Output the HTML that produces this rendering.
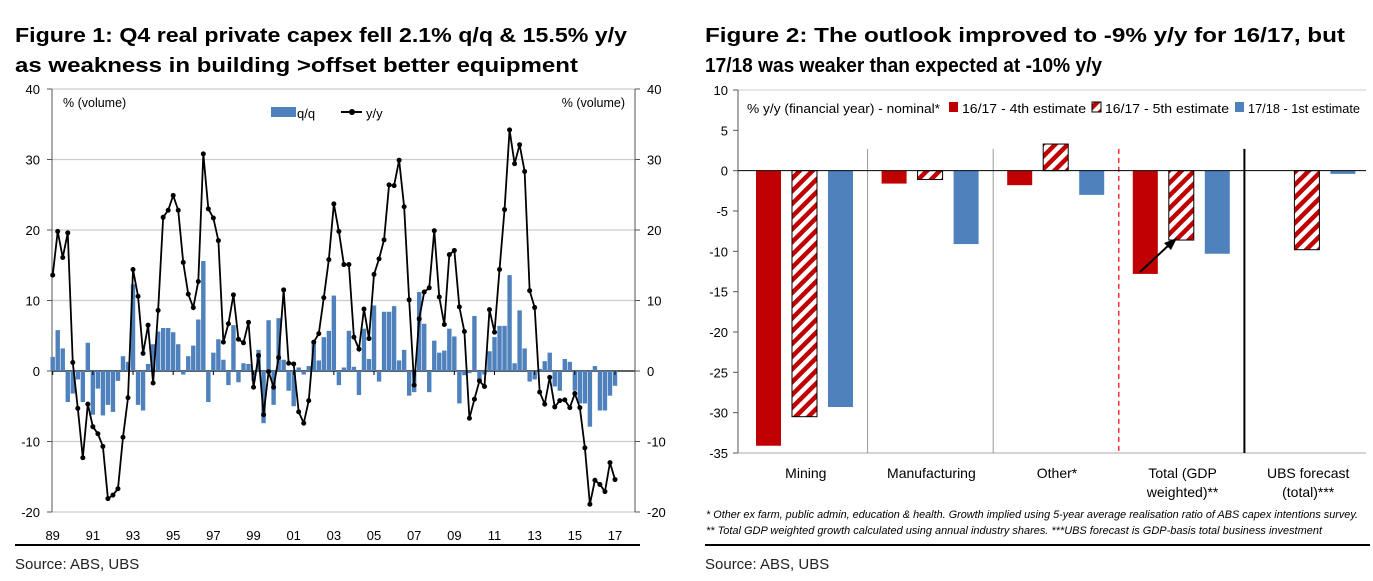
<!DOCTYPE html>
<html><head><meta charset="utf-8"><style>
body{margin:0;background:#fff;}
svg{display:block;font-family:"Liberation Sans",sans-serif;}
</style></head><body>
<svg width="1373" height="581" viewBox="0 0 1373 581">
<defs>
<pattern id="hatch" width="9" height="9" patternUnits="userSpaceOnUse" patternTransform="rotate(45)">
<rect width="9" height="9" fill="#fff"/><rect width="4.5" height="9" fill="#c00000"/>
</pattern>
</defs>
<text x="15" y="42" font-size="20" font-weight="bold" textLength="612" lengthAdjust="spacingAndGlyphs">Figure 1: Q4 real private capex fell 2.1% q/q &amp; 15.5% y/y</text>
<text x="15" y="72" font-size="20" font-weight="bold" textLength="563" lengthAdjust="spacingAndGlyphs">as weakness in building &gt;offset better equipment</text>
<text x="705" y="42" font-size="20" font-weight="bold" textLength="640" lengthAdjust="spacingAndGlyphs">Figure 2: The outlook improved to -9% y/y for 16/17, but</text>
<text x="705" y="72" font-size="20" font-weight="bold" textLength="397" lengthAdjust="spacingAndGlyphs">17/18 was weaker than expected at -10% y/y</text>
<g id="c1"></g>
<g id="c2"></g>
<line x1="15" y1="545" x2="640" y2="545" stroke="#000" stroke-width="2"/>
<line x1="705" y1="545" x2="1370" y2="545" stroke="#000" stroke-width="2"/>
<text x="15" y="569" font-size="15" fill="#222">Source: ABS, UBS</text>
<text x="705" y="569" font-size="15" fill="#222">Source: ABS, UBS</text>
<text x="706" y="518" font-size="11" font-style="italic" textLength="652" lengthAdjust="spacingAndGlyphs">* Other ex farm, public admin, education &amp; health. Growth implied using 5-year average realisation ratio of ABS capex intentions survey.</text>
<text x="706" y="534" font-size="11" font-style="italic" textLength="616" lengthAdjust="spacingAndGlyphs">** Total GDP weighted growth calculated using annual industry shares. ***UBS forecast is GDP-basis total business investment</text>
</svg>
<script>
const NS='http://www.w3.org/2000/svg';
// Figure 1 data
const yyValues=[13.6,19.8,16.1,19.6,1.2,-5.3,-12.3,-4.7,-7.9,-8.9,-10.7,-18.1,-17.6,-16.7,-9.4,-3.8,14.4,10.6,2.5,6.5,-1.7,8.6,21.8,22.8,24.9,22.8,15.4,10.9,9.0,12.7,30.8,23.0,21.7,18.5,4.1,6.7,10.8,4.5,
4.0,6.9,-2.3,2.2,-6.2,-0.1,-2.3,1.9,11.5,1.1,1.0,-5.8,-7.4,-4.2,4.1,5.3,10.4,15.8,23.7,19.8,15.1,15.1,4.8,3.1,8.8,4.6,13.7,15.9,18.6,26.4,26.3,29.9,23.3,10.1,-2.0,7.4,11.2,11.8,
19.9,10.5,6.6,16.5,17.1,9.1,5.6,-6.7,-4.0,-1.4,-2.2,8.7,5.5,14.4,22.9,34.2,29.4,32.1,28.3,11.4,9.0,-3.0,-4.7,-0.9,-5.1,-4.2,-4.1,-5.2,-3.2,-5.2,-10.9,-18.9,-15.5,-16.1,-17.1,-13.0,-15.4];
const qqValues=[2.0,5.8,3.2,-4.4,-3.2,-1.2,-4.4,4.0,-6.2,-2.5,-6.3,-4.8,-5.8,-1.4,2.1,1.3,12.3,-4.8,-5.6,1.0,3.8,5.6,6.1,6.1,5.5,3.8,-0.5,2.1,3.6,7.3,15.6,-4.4,2.6,4.5,1.6,-2.0,6.5,-1.6,
1.1,1.0,-1.4,3.0,-7.4,7.2,-4.8,7.5,1.6,-2.8,-5.0,0.5,-0.5,0.7,4.1,1.5,4.8,5.7,10.7,-2.0,0.5,5.7,0.6,-3.4,6.0,1.7,9.3,-1.5,8.4,8.4,9.2,1.5,3.0,-3.5,-3.0,11.2,6.7,-3.0,
4.3,2.6,2.9,6.0,4.9,-4.6,-0.6,-0.3,7.8,-1.5,-0.5,2.8,4.8,6.4,6.4,13.6,1.1,8.6,3.2,-1.5,-1.2,0.3,1.4,2.6,-2.2,-2.8,1.7,1.3,-2.8,-4.6,-4.6,-7.9,0.7,-5.6,-5.6,-3.5,-2.1];
const yTicks1=[40,30,20,10,0,-10,-20];
const xLabels1=['89','91','93','95','97','99','01','03','05','07','09','11','13','15','17'];
// Figure 2 data
const categories2=['Mining','Manufacturing','Other*','Total (GDP|weighted)**','UBS forecast|(total)***'];
const est4=[-34.1,-1.6,-1.8,-12.8,null];
const est5=[-30.5,-1.1,3.3,-8.6,-9.8];
const first1718=[-29.3,-9.1,-3.0,-10.3,-0.4];
const yTicks2=[10,5,0,-5,-10,-15,-20,-25,-30,-35];

function mk(parent,tag,attrs,text){const e=document.createElementNS(NS,tag);for(const k in attrs)e.setAttribute(k,attrs[k]);if(text!==undefined)e.textContent=text;parent.appendChild(e);return e;}

// ---- Figure 1 ----
(function(){
const g=document.getElementById('c1');
const L=52,R=635,T=89,B=512;
const y=v=>T+(40-v)*(B-T)/60;
const x0=52.7,x1=615;
const x=i=>x0+i*(x1-x0)/(yyValues.length-1);
yTicks1.forEach(t=>{
  const gl=mk(g,'line',{x1:L,x2:R,y1:y(t),y2:y(t),stroke:t===0?'#000':'#ccc','stroke-width':t===0?1.2:1.3});
  
  
  const a=mk(g,'text',{x:40,y:y(t)+5,'font-size':13,'text-anchor':'end'},String(t));
  
  
  const b=mk(g,'text',{x:647,y:y(t)+5,'font-size':13},String(t));
  
  
  mk(g,'line',{x1:L-5,x2:L,y1:y(t),y2:y(t),stroke:'#555'});
  mk(g,'line',{x1:R,x2:R+5,y1:y(t),y2:y(t),stroke:'#555'});
});
const la=mk(g,'line',{x1:L,x2:L,y1:T,y2:B,stroke:'#555'});
const ra=mk(g,'line',{x1:R,x2:R,y1:T,y2:B,stroke:'#555'});
qqValues.forEach((v,i)=>{
  const r=mk(g,'rect',{x:x(i)-2.2,width:4.4,y:Math.min(y(v),y(0)),height:Math.abs(y(v)-y(0)),fill:'#4f81bd'});
  
  
});
xLabels1.forEach((s,k)=>{
  const i=k*8;
  mk(g,'line',{x1:x(i),x2:x(i),y1:y(0),y2:y(0)+4,stroke:'#000'});
  const t=mk(g,'text',{x:x(i),y:540,'font-size':13,'text-anchor':'middle'},s);
  
  
});
const pl=mk(g,'polyline',{points:yyValues.map((v,i)=>x(i)+','+y(v)).join(' '),fill:'none',stroke:'#000','stroke-width':1.8});


yyValues.forEach((v,i)=>{
  const c=mk(g,'circle',{cx:x(i),cy:y(v),r:2.5,fill:'#000'});
  
  
});
const u1=mk(g,'text',{x:63,y:107,'font-size':12.5},'% (volume)');
const u2=mk(g,'text',{x:625,y:107,'font-size':12.5,'text-anchor':'end'},'% (volume)');
const lg=mk(g,'g',{});
mk(lg,'rect',{x:271,y:107,width:25,height:10,fill:'#4f81bd'});
mk(lg,'text',{x:297,y:118,'font-size':13},'q/q');
mk(lg,'line',{x1:341,x2:362,y1:112,y2:112,stroke:'#000','stroke-width':2});
mk(lg,'circle',{cx:352,cy:112,r:3,fill:'#000'});
mk(lg,'text',{x:366,y:118,'font-size':13},'y/y');
})();

// ---- Figure 2 ----
(function(){
const g=document.getElementById('c2');
const L=738,R=1366,T=90,B=453;
const y=v=>T+(10-v)*(B-T)/45;
const cw=(R-L)/categories2.length;
mk(g,'line',{x1:L,x2:R,y1:T,y2:T,stroke:'#ccc'});
yTicks2.forEach(t=>{
  const a=mk(g,'text',{x:L-10,y:y(t)+5,'font-size':13,'text-anchor':'end'},String(t));
  
  
  mk(g,'line',{x1:L-5,x2:L,y1:y(t),y2:y(t),stroke:'#555'});
});
const ax=mk(g,'line',{x1:L,x2:L,y1:T,y2:B,stroke:'#555'});
mk(g,'line',{x1:L,x2:R,y1:B,y2:B,stroke:'#aaa'});
const sepStyles=[['#999',1,''],['#999',1,''],['#e00',1.2,'5,4'],['#000',2,'']];
for(let k=1;k<categories2.length;k++){
  const s=sepStyles[k-1];
  const l=mk(g,'line',{x1:L+k*cw+4,x2:L+k*cw+4,y1:y(2.7),y2:B,stroke:s[0],'stroke-width':s[1],'stroke-dasharray':s[2]});
  
  
}
const series=[[est4,'#c00000','bar-4th-estimate',18],[est5,'url(#hatch)','bar-5th-estimate',54],[first1718,'#4f81bd','bar-1st-estimate',90]];
series.forEach(([arr,fill,name,off])=>{
  arr.forEach((v,i)=>{
    if(v===null)return;
    const attrs={x:L+i*cw+off,width:25,y:Math.min(y(v),y(0)),height:Math.abs(y(v)-y(0)),fill:fill};
    if(fill.startsWith('url')){attrs.stroke='#000';attrs['stroke-width']=1;}
    const r=mk(g,'rect',attrs);
    
    
  });
});
const z=mk(g,'line',{x1:L,x2:R,y1:y(0),y2:y(0),stroke:'#000'});
categories2.forEach((c,i)=>{
  const parts=c.split('|');
  parts.forEach((p,j)=>{
    const t=mk(g,'text',{x:L+i*cw+cw/2+5,y:478+j*19,'font-size':14,'text-anchor':'middle'},p);
    
    
  });
});
const ar=mk(g,'g',{});
mk(ar,'line',{x1:1140,y1:272,x2:1170,y2:244,stroke:'#000','stroke-width':2});
mk(ar,'polygon',{points:'1177,238 1164,243 1171,250',fill:'#000'});
const lg=mk(g,'g',{});
mk(lg,'text',{x:747,y:113,'font-size':13,textLength:193,lengthAdjust:'spacingAndGlyphs'},'% y/y (financial year) - nominal*');
mk(lg,'rect',{x:949,y:102,width:9,height:10,fill:'#c00000'});
mk(lg,'text',{x:962,y:113,'font-size':13,textLength:124,lengthAdjust:'spacingAndGlyphs'},'16/17 - 4th estimate');
mk(lg,'rect',{x:1092,y:102,width:9,height:10,fill:'url(#hatch)',stroke:'#000'});
mk(lg,'text',{x:1105,y:113,'font-size':13,textLength:124,lengthAdjust:'spacingAndGlyphs'},'16/17 - 5th estimate');
mk(lg,'rect',{x:1235,y:102,width:9,height:10,fill:'#4f81bd'});
mk(lg,'text',{x:1248,y:113,'font-size':13,textLength:112,lengthAdjust:'spacingAndGlyphs'},'17/18 - 1st estimate');
})();
</script>
</body></html>
